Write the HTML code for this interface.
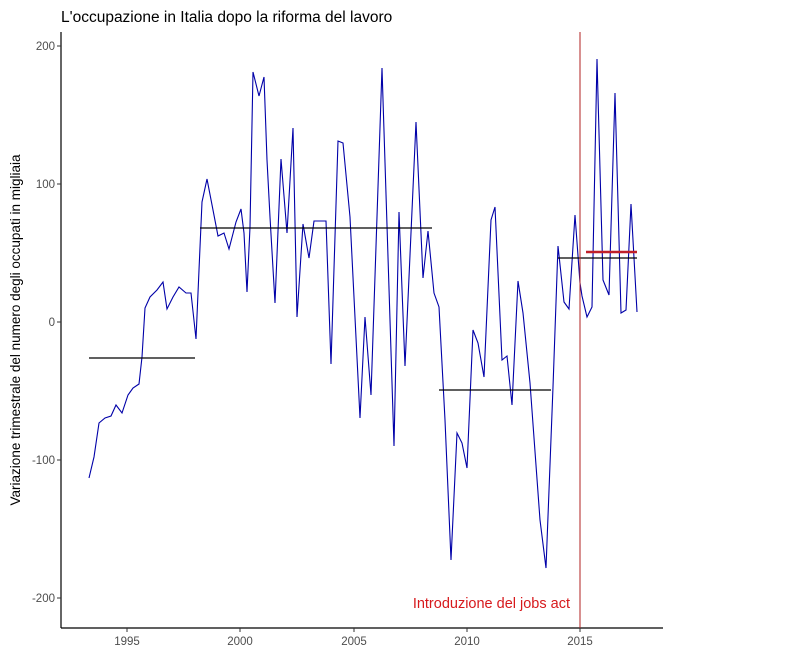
<!DOCTYPE html>
<html><head><meta charset="utf-8"><style>
html,body{margin:0;padding:0;background:#fff;}
svg{display:block;font-family:"Liberation Sans",Arial,sans-serif;}
</style></head><body>
<svg width="786" height="671" viewBox="0 0 786 671" xmlns="http://www.w3.org/2000/svg">
<rect width="786" height="671" fill="#fff"/>
<text x="61" y="22" font-size="15.5" fill="#000">L'occupazione in Italia dopo la riforma del lavoro</text>
<line x1="61" y1="32" x2="61" y2="628" stroke="#000" stroke-width="1.2"/>
<line x1="61" y1="628" x2="663" y2="628" stroke="#000" stroke-width="1.2"/>
<g stroke="#333" stroke-width="1">
<line x1="57" y1="46" x2="61" y2="46"/><line x1="57" y1="184" x2="61" y2="184"/><line x1="57" y1="322" x2="61" y2="322"/><line x1="57" y1="460" x2="61" y2="460"/><line x1="57" y1="598" x2="61" y2="598"/>
<line x1="127" y1="628" x2="127" y2="632"/><line x1="240" y1="628" x2="240" y2="632"/><line x1="354" y1="628" x2="354" y2="632"/><line x1="467" y1="628" x2="467" y2="632"/><line x1="580" y1="628" x2="580" y2="632"/>
</g>
<g font-size="11.5" fill="#4d4d4d" text-anchor="end">
<text x="55" y="50">200</text><text x="55" y="188">100</text><text x="55" y="326">0</text><text x="55" y="464">-100</text><text x="55" y="602">-200</text>
</g>
<g font-size="11.5" fill="#4d4d4d" text-anchor="middle">
<text x="127" y="645">1995</text><text x="240" y="645">2000</text><text x="354" y="645">2005</text><text x="467" y="645">2010</text><text x="580" y="645">2015</text>
</g>
<text transform="translate(20,330) rotate(-90)" font-size="13.5" text-anchor="middle" fill="#000">Variazione trimestrale del numero degli occupati in migliaia</text>
<polyline fill="none" stroke="#0000a8" stroke-width="1.1" points="89,478 94,457 99,423 105,418 111,416 116,405 122,413 128,395 133,388 139,384 142,357 145,308 150,297 157,290 163,282 167,309 173,297 179,287 186,293 191,293 196,339 199,270 202,202 207,179 213,210 218,236 224,233 229,249 236,222 241,209 244,233 247,292 250,227 253,72 259,96 264,77 267,160 270,217 275,303 281,159 287,233 293,128 297,317 303,224 309,258 314,221 326,221 331,364 338,141 343,143 350,217 360,418 365,317 371,395 382,68 394,446 399,212 405,366 416,122 423,278 428,231 434,293 439,307 445,420 451,560 457,433 462,443 467,468 473,330 478,343 484,377 491,220 495,207 502,360 507,356 512,405 518,281 523,313 530,383 540,520 546,568 553,387 558,246 564,302 569,309 575,215 580,283 582,296 587,317 592,307 597,59 603,280 609,295 615,93 621,313 626,310 631,204 637,312"/>
<g stroke="#000" stroke-width="1.2">
<line x1="89" y1="358" x2="195" y2="358"/>
<line x1="200" y1="228" x2="432" y2="228"/>
<line x1="439" y1="390" x2="551" y2="390"/>
<line x1="558" y1="258" x2="637" y2="258"/>
</g>
<line x1="586" y1="252" x2="637" y2="252" stroke="#c0202a" stroke-width="2.5"/>
<line x1="580" y1="32" x2="580" y2="628" stroke="#b22222" stroke-width="1"/>
<text x="570" y="608" font-size="14.5" fill="#d7191c" text-anchor="end">Introduzione del jobs act</text>
</svg>
</body></html>
